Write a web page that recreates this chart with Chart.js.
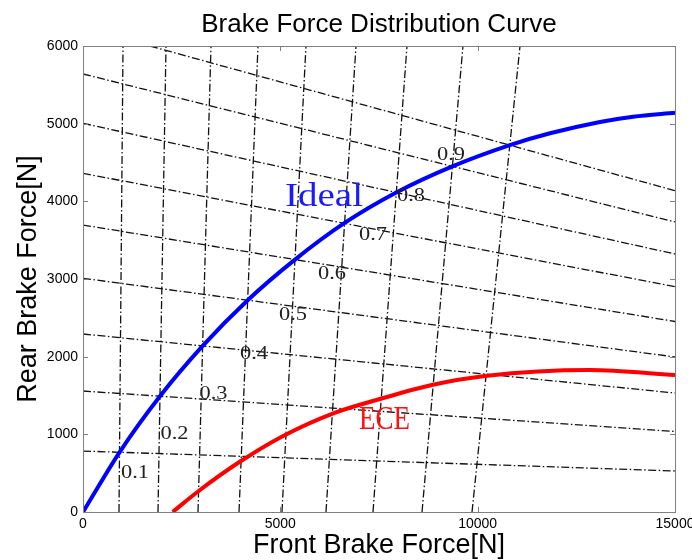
<!DOCTYPE html>
<html>
<head>
<meta charset="utf-8">
<title>Brake Force Distribution Curve</title>
<script src="https://cdn.jsdelivr.net/npm/chart.js@4.4.0/dist/chart.umd.min.js"></script>
<style>
  html, body { margin: 0; padding: 0; background: #fff; }
  #wrap { width: 692px; height: 560px; }
</style>
</head>
<body>
<div id="wrap"><canvas id="myChart" width="692" height="560"></canvas></div>
<script>
// axis range
var xMin = 0, xMax = 15000;
var yMin = 0, yMax = 6000;
var xStep = 5000, yStep = 1000;

// adhesion coefficient of each f / r line pair
var phiValues = ['0.1', '0.2', '0.3', '0.4', '0.5', '0.6', '0.7', '0.8', '0.9'];

// f lines (front wheels lock first): front force at 0 N and at 6000 N rear force
var fLineBottomX = [912, 1900, 2914, 3953, 5042, 6157, 7348, 8590, 9857];
var fLineTopX = [1014, 2103, 3243, 4434, 5650, 6917, 8209, 9628, 11073];

// r lines (rear wheels lock first): start point and rear force at 15000 N front force
var rLineStartX = [0, 0, 0, 0, 0, 0, 0, 0, 1698];
var rLineStartY = [785, 1558, 2292, 3009, 3695, 4361, 5005, 5640, 6000];
var rLineEndY = [528, 1037, 1532, 1996, 2453, 2901, 3322, 3734, 4137];

// ideal braking force distribution (I curve)
var idealFront = [0, 925, 1950, 3032, 4172, 5371, 6629, 7938, 9360, 10814, 11833, 13100, 13937, 15000];
var idealRear = [0, 769, 1490, 2138, 2727, 3250, 3722, 4114, 4450, 4724, 4876, 5022, 5090, 5141];

// ECE regulation limit
var eceFront = [2273, 2906, 3953, 5035, 6343, 7526, 8836, 10187, 12847, 15000];
var eceRear = [0, 261, 640, 970, 1271, 1455, 1635, 1751, 1828, 1764];

// where the phi labels sit (front, rear force)
var phiLabelFront = [1318, 2319, 3307, 4333, 5321, 6310, 7349, 8312, 9325];
var phiLabelRear = [502, 1004, 1516, 2031, 2537, 3064, 3567, 4069, 4597];

function points(xs, ys) {
	var out = [];
	for (var i = 0; i < xs.length; i++) out.push({ x: xs[i], y: ys[i] });
	return out;
}

var dashDot = [8, 2.5, 1.5, 2.5];
var datasets = [];

for (var i = 0; i < phiValues.length; i++) {
	datasets.push({
		label: 'f ' + phiValues[i],
		data: [{ x: fLineBottomX[i], y: yMin }, { x: fLineTopX[i], y: yMax }],
		borderColor: '#111',
		borderWidth: 1.3,
		borderDash: dashDot,
		pointRadius: 0,
		order: 3
	});
	datasets.push({
		label: 'r ' + phiValues[i],
		data: [{ x: rLineStartX[i], y: rLineStartY[i] }, { x: xMax, y: rLineEndY[i] }],
		borderColor: '#111',
		borderWidth: 1.3,
		borderDash: dashDot,
		pointRadius: 0,
		order: 3
	});
}

datasets.push({
	label: 'Ideal',
	data: points(idealFront, idealRear),
	borderColor: '#0000ff',
	borderWidth: 4,
	cubicInterpolationMode: 'monotone',
	pointRadius: 0,
	order: 1
});
datasets.push({
	label: 'ECE',
	data: points(eceFront, eceRear),
	borderColor: '#ff0000',
	borderWidth: 4,
	cubicInterpolationMode: 'monotone',
	pointRadius: 0,
	order: 2
});

// text drawn inside the plot, squeezed/stretched to a fixed width
var textMarks = [];
for (var i = 0; i < phiValues.length; i++) {
	textMarks.push({ text: phiValues[i], x: phiLabelFront[i], y: phiLabelRear[i], color: '#222', size: 19, width: 28 });
}
textMarks.push({ text: 'Ideal', x: 6107, y: 4049, color: '#1a1aff', size: 34, width: 78 });
textMarks.push({ text: 'ECE', x: 7640, y: 1185, color: '#ff1010', size: 34, width: 51 });

var plotText = {
	id: 'plotText',
	afterDatasetsDraw: function(chart) {
		var ctx = chart.ctx;
		var sx = chart.scales.x, sy = chart.scales.y;
		textMarks.forEach(function(m) {
			ctx.save();
			ctx.font = m.size + 'px "Liberation Serif", serif';
			ctx.fillStyle = m.color;
			ctx.textAlign = 'center';
			ctx.textBaseline = 'middle';
			var w = ctx.measureText(m.text).width;
			ctx.translate(sx.getPixelForValue(m.x), sy.getPixelForValue(m.y));
			ctx.scale(m.width / w, 1);
			ctx.fillText(m.text, 0, 0);
			ctx.restore();
		});
	}
};

// box around the axes with inward tick marks on all four sides
var axesBox = {
	id: 'axesBox',
	afterDraw: function(chart) {
		var ctx = chart.ctx;
		var a = chart.chartArea;
		var sx = chart.scales.x, sy = chart.scales.y;
		var len = 5;
		ctx.save();
		ctx.strokeStyle = '#808080';
		ctx.lineWidth = 1;
		ctx.beginPath();
		sx.ticks.forEach(function(t) {
			var px = Math.round(sx.getPixelForValue(t.value)) + 0.5;
			ctx.moveTo(px, a.bottom); ctx.lineTo(px, a.bottom - len);
			ctx.moveTo(px, a.top); ctx.lineTo(px, a.top + len);
		});
		sy.ticks.forEach(function(t) {
			var py = Math.round(sy.getPixelForValue(t.value)) + 0.5;
			ctx.moveTo(a.left, py); ctx.lineTo(a.left + len, py);
			ctx.moveTo(a.right, py); ctx.lineTo(a.right - len, py);
		});
		ctx.stroke();
		ctx.strokeRect(Math.round(a.left) + 0.5, Math.round(a.top) + 0.5,
			Math.round(a.right - a.left), Math.round(a.bottom - a.top));
		ctx.restore();
	}
};

var tickFont = { family: '"Liberation Sans", Arial, sans-serif', size: 14 };
var labelFont = { family: '"Liberation Sans", Arial, sans-serif', size: 27 };
var plain = function(v) { return String(v); };

var ctx = document.getElementById('myChart').getContext('2d');
var chart = new Chart(ctx, {
	type: 'line',
	data: { datasets: datasets },
	plugins: [plotText, axesBox],
	options: {
		responsive: false,
		animation: false,
		layout: { padding: { left: 0, right: 17, top: 0, bottom: 0 } },
		plugins: {
			legend: { display: false },
			tooltip: { enabled: false },
			title: {
				display: true,
				text: 'Brake Force Distribution Curve',
				fullSize: false,
				color: '#000',
				font: { family: '"Liberation Sans", Arial, sans-serif', size: 26, weight: 'normal' },
				padding: { top: 9, bottom: 5.8 }
			}
		},
		scales: {
			x: {
				type: 'linear',
				min: xMin,
				max: xMax,
				ticks: { stepSize: xStep, color: '#000', font: tickFont, padding: 4, maxRotation: 0, callback: plain },
				grid: { display: false, drawTicks: false },
				border: { display: false },
				title: { display: true, text: 'Front Brake Force[N]', color: '#000', font: labelFont, padding: { top: 0, bottom: -2 } },
				afterFit: function(s) {
					s.height = 48;
					// let the 15000 label hang into the right margin
					s.paddingLeft = 0;
					s.paddingRight = 0;
				}
			},
			y: {
				type: 'linear',
				min: yMin,
				max: yMax,
				ticks: { stepSize: yStep, color: '#000', font: tickFont, padding: 5, callback: plain },
				grid: { display: false, drawTicks: false },
				border: { display: false },
				title: { display: true, text: 'Rear Brake Force[N]', color: '#000', font: labelFont, padding: { top: 12, bottom: 0 } },
				afterFit: function(s) {
					s.width = 83;
					s.paddingTop = 0;
					s.paddingBottom = 0;
				}
			}
		}
	}
});
</script>
</body>
</html>
